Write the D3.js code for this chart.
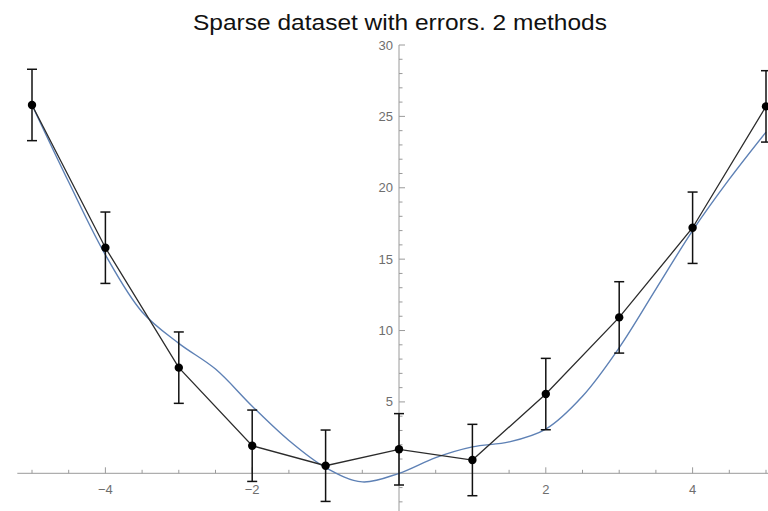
<!DOCTYPE html>
<html>
<head>
<meta charset="utf-8">
<script src="https://cdn.jsdelivr.net/npm/d3@7"></script>
<style>
  body { margin: 0; background: #fff; }
  .chart { width: 768px; height: 511px; overflow: hidden; }
</style>
</head>
<body>
<div class="chart"></div>
<script>
// data points with error bars
const xValues = [-5, -4, -3, -2, -1, 0, 1, 2, 3, 4, 5];
const yValues = [25.8, 15.8, 7.4, 1.93, 0.53, 1.68, 0.93, 5.55, 10.92, 17.2, 25.7];
const errValues = [2.5, 2.5, 2.5, 2.5, 2.5, 2.5, 2.5, 2.5, 2.5, 2.5, 2.5];

// second method (smooth fit)
const fitX = [-5, -4.5, -4, -3.5, -3, -2.5, -2, -1.5, -1, -0.5, 0, 0.5, 1, 1.5, 2, 2.5, 3, 3.5, 4, 4.5, 5];
const fitY = [25.8, 20.4, 15.3, 11.3, 9.1, 7.3, 4.7, 2.3, 0.4, -0.6, 0, 1.1, 1.85, 2.2, 3.1, 5.4, 8.8, 12.9, 17.0, 20.6, 23.9];

// ticks
const xMajorTicks = [-4, -2, 2, 4];
const xMinorTicks = [-5, -4.5, -3.5, -3, -2.5, -1.5, -1, -0.5, 0.5, 1, 1.5, 2.5, 3, 3.5, 4.5, 5];
const yMajorTicks = [5, 10, 15, 20, 25, 30];
const yMinorTicks = [-2, -1, 1, 2, 3, 4, 6, 7, 8, 9, 11, 12, 13, 14, 16, 17, 18, 19, 21, 22, 23, 24, 26, 27, 28, 29];

const title = "Sparse dataset with errors. 2 methods";

document.addEventListener("DOMContentLoaded", function () {
  const w = 768;
  const h = 511;

  const xScale = d3.scaleLinear().domain([-5, 5]).range([32, 766]);
  const yScale = d3.scaleLinear().domain([0, 30]).range([473.3, 45]);

  const svg = d3
    .select(".chart")
    .append("svg")
    .attr("width", w)
    .attr("height", h)
    .style("font-family", "'Liberation Sans', Arial, sans-serif");

  const axisColor = "#9a9a9a";
  const labelColor = "#6e6e6e";

  // x axis
  svg
    .append("line")
    .attr("x1", xScale(-5.2))
    .attr("x2", w)
    .attr("y1", yScale(0))
    .attr("y2", yScale(0))
    .attr("stroke", axisColor)
    .attr("stroke-width", 1);

  svg
    .selectAll(".xmajor")
    .data(xMajorTicks)
    .enter()
    .append("line")
    .attr("class", "xmajor")
    .attr("x1", (d) => xScale(d))
    .attr("x2", (d) => xScale(d))
    .attr("y1", yScale(0))
    .attr("y2", yScale(0) - 6)
    .attr("stroke", axisColor);

  svg
    .selectAll(".xminor")
    .data(xMinorTicks)
    .enter()
    .append("line")
    .attr("class", "xminor")
    .attr("x1", (d) => xScale(d))
    .attr("x2", (d) => xScale(d))
    .attr("y1", yScale(0))
    .attr("y2", yScale(0) - 3.5)
    .attr("stroke", axisColor);

  svg
    .selectAll(".xlabel")
    .data(xMajorTicks)
    .enter()
    .append("text")
    .attr("class", "xlabel")
    .attr("x", (d) => xScale(d))
    .attr("y", yScale(0) + 21)
    .attr("text-anchor", "middle")
    .style("font-size", "13px")
    .style("fill", labelColor)
    .text((d) => (d < 0 ? "\u2212" + Math.abs(d) : d));

  // y axis
  svg
    .append("line")
    .attr("x1", xScale(0))
    .attr("x2", xScale(0))
    .attr("y1", yScale(30))
    .attr("y2", h)
    .attr("stroke", axisColor)
    .attr("stroke-width", 1);

  svg
    .selectAll(".ymajor")
    .data(yMajorTicks)
    .enter()
    .append("line")
    .attr("class", "ymajor")
    .attr("x1", xScale(0))
    .attr("x2", xScale(0) + 6)
    .attr("y1", (d) => yScale(d))
    .attr("y2", (d) => yScale(d))
    .attr("stroke", axisColor);

  svg
    .selectAll(".yminor")
    .data(yMinorTicks)
    .enter()
    .append("line")
    .attr("class", "yminor")
    .attr("x1", xScale(0))
    .attr("x2", xScale(0) + 3.5)
    .attr("y1", (d) => yScale(d))
    .attr("y2", (d) => yScale(d))
    .attr("stroke", axisColor);

  svg
    .selectAll(".ylabel")
    .data(yMajorTicks)
    .enter()
    .append("text")
    .attr("class", "ylabel")
    .attr("x", xScale(0) - 6)
    .attr("y", (d) => yScale(d) + 4.5)
    .attr("text-anchor", "end")
    .style("font-size", "13px")
    .style("fill", labelColor)
    .text((d) => d);

  // fitted curve
  const fitLine = d3
    .line()
    .x((d, i) => xScale(fitX[i]))
    .y((d) => yScale(d))
    .curve(d3.curveCatmullRom.alpha(0.5));

  svg
    .append("path")
    .datum(fitY)
    .attr("d", fitLine)
    .attr("fill", "none")
    .attr("stroke", "#5e81b5")
    .attr("stroke-width", 1.4);

  // data connected by straight segments
  const dataLine = d3
    .line()
    .x((d, i) => xScale(xValues[i]))
    .y((d) => yScale(d));

  svg
    .append("path")
    .datum(yValues)
    .attr("d", dataLine)
    .attr("fill", "none")
    .attr("stroke", "#2b2b2b")
    .attr("stroke-width", 1.3);

  // error bars
  const bars = svg
    .selectAll(".err")
    .data(yValues)
    .enter()
    .append("g")
    .attr("class", "err")
    .attr("stroke", "#111")
    .attr("stroke-width", 1.5);

  bars
    .append("line")
    .attr("x1", (d, i) => xScale(xValues[i]))
    .attr("x2", (d, i) => xScale(xValues[i]))
    .attr("y1", (d, i) => yScale(d + errValues[i]))
    .attr("y2", (d, i) => yScale(d - errValues[i]));

  bars
    .append("line")
    .attr("x1", (d, i) => xScale(xValues[i]) - 5)
    .attr("x2", (d, i) => xScale(xValues[i]) + 5)
    .attr("y1", (d, i) => yScale(d + errValues[i]))
    .attr("y2", (d, i) => yScale(d + errValues[i]));

  bars
    .append("line")
    .attr("x1", (d, i) => xScale(xValues[i]) - 5)
    .attr("x2", (d, i) => xScale(xValues[i]) + 5)
    .attr("y1", (d, i) => yScale(d - errValues[i]))
    .attr("y2", (d, i) => yScale(d - errValues[i]));

  // points
  svg
    .selectAll(".dot")
    .data(yValues)
    .enter()
    .append("circle")
    .attr("class", "dot")
    .attr("cx", (d, i) => xScale(xValues[i]))
    .attr("cy", (d) => yScale(d))
    .attr("r", 4.2)
    .style("fill", "#000");

  // title, stretched a bit to the width it has in the original
  svg
    .append("text")
    .attr("x", 400)
    .attr("y", 30)
    .attr("text-anchor", "middle")
    .attr("textLength", 414)
    .attr("lengthAdjust", "spacingAndGlyphs")
    .style("font-size", "22px")
    .style("fill", "#111")
    .text(title);
});
</script>
</body>
</html>
